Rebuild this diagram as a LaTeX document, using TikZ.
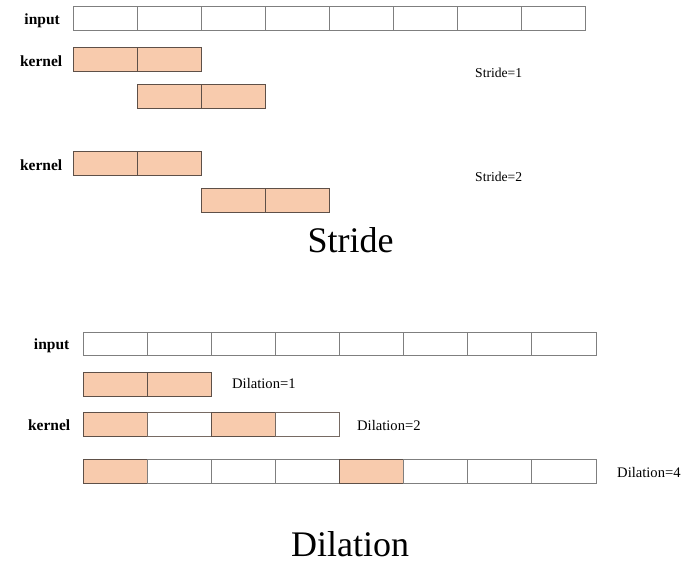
\documentclass[tikz,border=0pt]{standalone}
\usepackage{fontspec}
\setmainfont{Liberation Serif}
\definecolor{peach}{HTML}{F8CBAD}
\definecolor{gridgray}{HTML}{7F7F7F}
\definecolor{kerngray}{HTML}{5E5048}
\tikzset{
  incell/.style={draw=gridgray,line width=1pt,fill=white},
  kcell/.style={draw=kerngray,line width=1pt,fill=peach},
  ecell/.style={draw=kerngray!85,line width=1pt,fill=white},
  rowlab/.style={anchor=base east,inner sep=0pt,font=\fontsize{15.5}{18}\selectfont\bfseries},
  steplab/.style={anchor=base west,inner sep=0pt,font=\fontsize{13.6}{16}\selectfont},
  dillab/.style={anchor=base west,inner sep=0pt,font=\fontsize{14.6}{17}\selectfont},
  bigcap/.style={anchor=base,inner sep=0pt,font=\fontsize{36}{40}\selectfont}
}
\begin{document}
\begin{tikzpicture}[x=1pt,y=-1pt]
\useasboundingbox (0,0) rectangle (700,562);
% stride
\foreach \i in {0,...,7} \draw[incell] ({73+64*\i},6) rectangle +(64,24);
\foreach \x/\y in {73/47,137/84,73/151,201/188}
  \foreach \i in {0,1} \draw[kcell] ({\x+64*\i},\y) rectangle +(64,24);
\node[rowlab] (sin) at (60,24.3) {input};
\node[rowlab] (sk1) at (62.5,66) {kernel};
\node[rowlab] (sk2) at (62.5,170) {kernel};
\node[steplab] (s1) at (475,77.7) {Stride=1};
\node[steplab] (s2) at (475,181.7) {Stride=2};
\node[bigcap] (stride) at (350.5,252) {Stride};
% dilation
\foreach \i in {0,...,7} \draw[incell] ({83+64.125*\i},332) rectangle +(64.125,23.5);
\foreach \i in {0,1} \draw[kcell] ({83+64.125*\i},372) rectangle +(64.125,24);
\foreach \i in {0,...,3} {
  \ifodd\i \def\cs{ecell}\else\def\cs{kcell}\fi
  \draw[\cs] ({83+64.125*\i},412) rectangle +(64.125,24);
}
\foreach \i in {0,...,7} {
  \ifnum\i=0 \def\cs{kcell}\else\ifnum\i=4 \def\cs{kcell}\else\def\cs{incell}\fi\fi
  \draw[\cs] ({83+64.125*\i},459) rectangle +(64.125,24);
}
\node[rowlab] (din) at (69.5,349.3) {input};
\node[rowlab] (dk) at (70.5,430) {kernel};
\node[dillab] (d1) at (232,388.7) {Dilation=1};
\node[dillab] (d2) at (357,430) {Dilation=2};
\node[dillab] (d4) at (617,477.7) {Dilation=4};
\node[bigcap] (dilation) at (350,556) {Dilation};
\end{tikzpicture}
\end{document}
